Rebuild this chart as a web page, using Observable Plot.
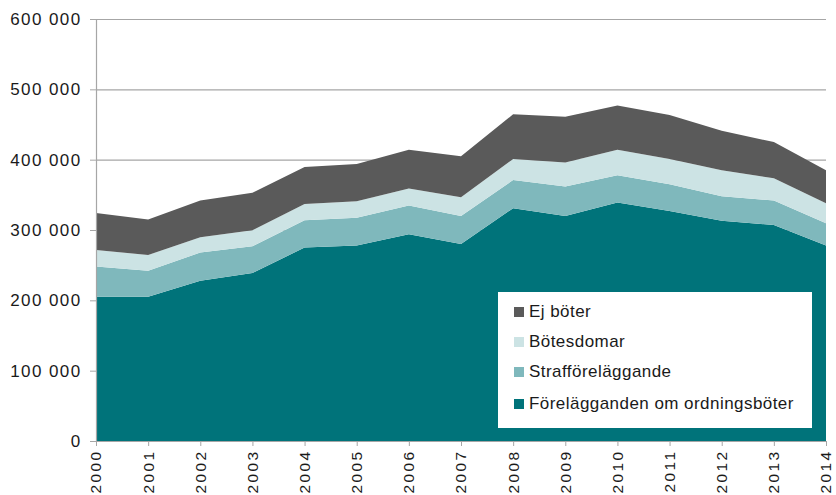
<!DOCTYPE html>
<html>
<head>
<meta charset="utf-8">
<script src="https://cdn.jsdelivr.net/npm/d3@7"></script>
<script src="https://cdn.jsdelivr.net/npm/@observablehq/plot@0.6"></script>
<style>
  body { margin: 0; background: #fff; font-family: "Liberation Sans", Arial, sans-serif; }
  #wrap { position: relative; width: 836px; height: 495px; }
  #legend { position: absolute; left: 498px; top: 292px; width: 314px; height: 136px; background: #fff;
            font-family: "Liberation Sans", Arial, sans-serif; font-size: 17px; color: #1a1a1a; letter-spacing: 0.45px; }
  .item { position: absolute; left: 16px; display: flex; align-items: center; }
  .sw { width: 10px; height: 10px; margin-right: 5px; }
  g[aria-label="y-axis tick label"] text { letter-spacing: 1.4px; }
  g[aria-label="x-axis tick label"] text { letter-spacing: 2.4px; }
</style>
</head>
<body>
<div id="wrap"></div>
<script>
const years = [2000,2001,2002,2003,2004,2005,2006,2007,2008,2009,2010,2011,2012,2013,2014];
const seriesNames = ["Förelägganden om ordningsböter","Strafföreläggande","Bötesdomar","Ej böter"];
const fore   = [205000,205000,228000,239000,275000,278000,294000,280000,331000,320000,339000,327000,313000,307000,278000];
const straff = [ 43000, 37000, 40000, 38000, 39000, 39500, 41000, 40000, 40000, 42000, 39000, 38000, 35000, 35000, 31500];
const botes  = [ 23500, 22500, 21600, 22500, 23000, 23500, 24000, 26500, 30000, 34000, 36000, 36000, 37000, 31500, 28500];
const ej     = [ 52500, 50500, 52400, 53500, 52600, 53000, 55000, 58500, 63500, 65000, 63000, 62500, 56000, 51500, 47000];
const colors = ["#00737a","#7fb8bc","#cce3e4","#5a5a5a"];
const yTicks = [0,100000,200000,300000,400000,500000,600000];

const seriesValues = [fore, straff, botes, ej];
const data = [];
seriesNames.forEach((s, i) => years.forEach((y, j) => data.push({year: y, series: s, value: seriesValues[i][j]})));

const fmt = d => d3.format(",")(d).replace(/,/g, " ");

const chart = Plot.plot({
  width: 836,
  height: 495,
  marginLeft: 96,
  marginRight: 10,
  marginTop: 19,
  marginBottom: 54,
  style: {fontFamily: "Liberation Sans, Arial, sans-serif", background: "#fff"},
  x: {domain: [2000, 2014], label: null},
  y: {domain: [0, 600000], label: null},
  color: {domain: seriesNames, range: colors},
  marks: [
    Plot.ruleY(yTicks.slice(1), {stroke: "#a6a6a6", strokeWidth: 1.2}),
    Plot.areaY(data, {x: "year", y: "value", fill: "series", order: seriesNames, curve: "linear"}),
    Plot.ruleX([2000], {stroke: "#a6a6a6", strokeWidth: 1.2}),
    Plot.ruleY([0], {stroke: "#a6a6a6", strokeWidth: 1.2}),
    Plot.axisY({ticks: yTicks, tickFormat: fmt, tickSize: 6, stroke: "#a6a6a6", tickPadding: 9,
                fontSize: 17, fill: "#1a1a1a"}),
    Plot.axisX({ticks: years, tickFormat: d => String(d), tickRotate: -90, tickSize: 5, stroke: "#a6a6a6",
                tickPadding: 3, fontSize: 15.5, fill: "#1a1a1a"})
  ]
});

const wrap = document.getElementById("wrap");
wrap.appendChild(chart);

const legend = document.createElement("div");
legend.id = "legend";
const tops = [10, 40, 70, 102];
const order = [3, 2, 1, 0];
order.forEach((idx, k) => {
  const it = document.createElement("div");
  it.className = "item";
  it.style.top = tops[k] + "px";
  const sw = document.createElement("span");
  sw.className = "sw";
  sw.style.background = colors[idx];
  const tx = document.createElement("span");
  tx.textContent = seriesNames[idx];
  it.appendChild(sw); it.appendChild(tx);
  legend.appendChild(it);
});
wrap.appendChild(legend);
</script>
</body>
</html>
